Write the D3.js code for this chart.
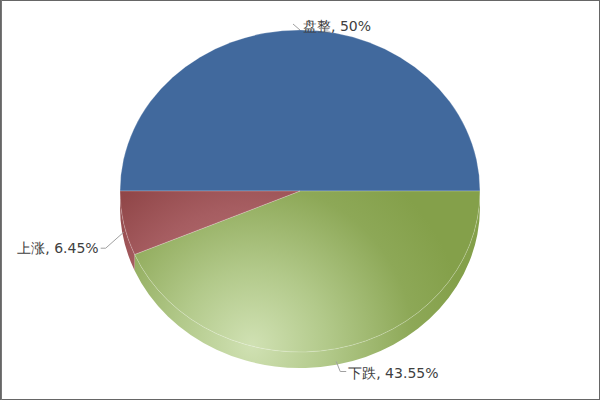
<!DOCTYPE html>
<html>
<head>
<meta charset="utf-8">
<script src="https://cdn.jsdelivr.net/npm/d3@7"></script>
<style>
  html, body { margin: 0; padding: 0; background: #fff; }
  svg { display: block; }
</style>
</head>
<body>
<svg id="chart" width="600" height="400"></svg>
<script>
// ---- data ----
const categories = ["盘整", "下跌", "上涨"];
const values = [50, 43.55, 6.45];
const labelTexts = ["盘整, 50%", "下跌, 43.55%", "上涨, 6.45%"];

// ---- layout / style ----
const W = 600, H = 400;
const cx = 300, cy = 191, rx = 180, ry = 161, depth = 16;
const baseColors = ["#41699D", "url(#gGreen)", "url(#gRed)"];

const svg = d3.select("#chart");
const defs = svg.append("defs");

function radial(id, stops, r) {
  const g = defs.append("radialGradient").attr("id", id)
    .attr("gradientUnits", "userSpaceOnUse")
    .attr("cx", 252).attr("cy", 345).attr("r", r);
  stops.forEach(([o, c]) => g.append("stop").attr("offset", o).attr("stop-color", c));
}
radial("gGreen", [[0, "#D0E1B3"], [0.35, "#B2C98A"], [0.75, "#8DA857"], [1, "#84A04A"]], 215);
radial("gRed", [[0, "#C88688"], [0.6, "#A65D61"], [0.85, "#914749"], [1, "#8B4245"]], 230);

// frame
svg.append("rect").attr("x", 0.5).attr("y", 0.5).attr("width", W - 1).attr("height", H - 1)
  .attr("fill", "#fff").attr("stroke", "#666").attr("stroke-width", 1);
svg.append("line").attr("x1", 1.5).attr("x2", 1.5).attr("y1", 0).attr("y2", H)
  .attr("stroke", "#777").attr("stroke-width", 1);

const pie = d3.pie().sort(null).value(d => d)
  .startAngle(-Math.PI / 2).endAngle(3 * Math.PI / 2);
const arcs = pie(values);

const pt = (a, dy = 0) => [cx + rx * Math.sin(a), cy - ry * Math.cos(a) + dy];
const f = p => p[0].toFixed(2) + "," + p[1].toFixed(2);

function topPath(a0, a1) {
  const large = (a1 - a0) > Math.PI + 1e-9 ? 1 : 0;
  return `M${cx},${cy}L${f(pt(a0))}A${rx},${ry} 0 ${large} 1 ${f(pt(a1))}Z`;
}
function wallPath(a0, a1) {
  const w0 = Math.max(a0, Math.PI / 2), w1 = Math.min(a1, 3 * Math.PI / 2);
  if (w1 <= w0) return null;
  return `M${f(pt(w0))}A${rx},${ry} 0 0 1 ${f(pt(w1))}L${f(pt(w1, depth))}A${rx},${ry} 0 0 0 ${f(pt(w0, depth))}Z`;
}

const gPie = svg.append("g");
// walls
arcs.forEach((d, i) => {
  const p = wallPath(d.startAngle, d.endAngle);
  if (!p) return;
  gPie.append("path").attr("d", p).attr("fill", baseColors[i]);
});
// top faces
arcs.forEach((d, i) => {
  gPie.append("path").attr("d", topPath(d.startAngle, d.endAngle))
    .attr("fill", baseColors[i])
    .attr("stroke", "rgba(255,255,255,0.22)").attr("stroke-width", 1)
    .attr("stroke-linejoin", "round");
});

// labels: connector geometry relative to the slice-edge anchor
const labelLayout = [
  { ex: -7, ey: -6, run: 0, side: 1, tx: 3, ty: 1 },
  { ex: 4, ey: 10, run: 6, side: 1, tx: 2, ty: 6 },
  { ex: -18, ey: 16, run: -5, side: -1, tx: -2, ty: 5 }
];
const gLab = svg.append("g");
arcs.forEach((d, i) => {
  const mid = (d.startAngle + d.endAngle) / 2;
  const front = Math.max(0, -Math.cos(mid));
  const E = pt(mid, depth * (front > 0.5 ? 0.8 : 0.55) * (front > 0 ? 1 : 0));
  const L = labelLayout[i];
  const elbow = [E[0] + L.ex, E[1] + L.ey];
  const end = [elbow[0] + L.run, elbow[1]];
  const path = i === 0 ? `M${f(elbow)}L${f(E)}` : `M${f(E)}L${f(elbow)}L${f(end)}`;
  gLab.append("path").attr("d", path).attr("fill", "none")
    .attr("stroke", "#a0a0a0").attr("stroke-width", 1);
  const tx = i === 0 ? E[0] + L.tx : end[0] + L.tx;
  const ty = i === 0 ? E[1] + L.ty : end[1] + L.ty;
  gLab.append("text")
    .attr("x", tx).attr("y", ty)
    .attr("text-anchor", L.side > 0 ? "start" : "end")
    .attr("font-family", "DejaVu Sans, Verdana, sans-serif")
    .attr("font-size", 14)
    .attr("fill", "#404040")
    .text(labelTexts[i]);
});
</script>
</body>
</html>
